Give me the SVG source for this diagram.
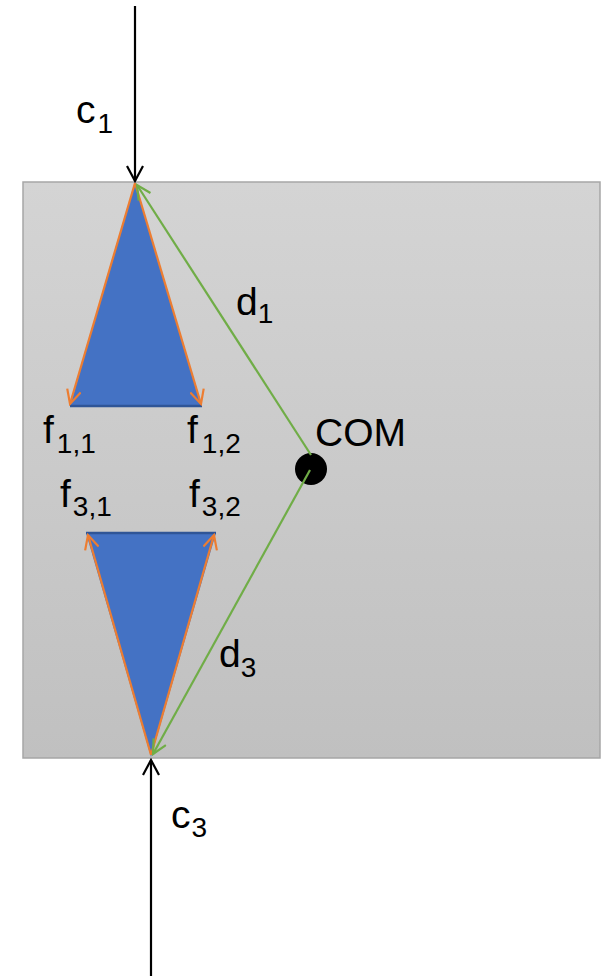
<svg xmlns="http://www.w3.org/2000/svg" width="613" height="976" viewBox="0 0 613 976">
<defs>
<linearGradient id="bg" x1="0" y1="0" x2="0" y2="1">
<stop offset="0" stop-color="#d4d4d4"/>
<stop offset="1" stop-color="#c0c0c0"/>
</linearGradient>
<marker id="ao" viewBox="-16 -8 18 16" markerWidth="18" markerHeight="16" refX="0" refY="0" orient="auto" markerUnits="userSpaceOnUse">
<path d="M-14,-7 L0,0 L-14,7" fill="none" stroke="#ed7d31" stroke-width="2.2"/>
</marker>
<marker id="ag" viewBox="-16 -8 18 16" markerWidth="18" markerHeight="16" refX="0" refY="0" orient="auto" markerUnits="userSpaceOnUse">
<path d="M-14,-7 L0,0 L-14,7" fill="none" stroke="#70ad47" stroke-width="2.2"/>
</marker>
<marker id="ak" viewBox="-16 -9 18 18" markerWidth="18" markerHeight="18" refX="0" refY="0" orient="auto" markerUnits="userSpaceOnUse">
<path d="M-15,-8 L0,0 L-15,8" fill="none" stroke="#000" stroke-width="2.2"/>
</marker>
</defs>
<style>
text{font-family:"Liberation Sans",Arial,sans-serif;fill:#000}
.lbl{font-size:39px}
.sub{font-size:28px}
.tri{fill:#4472c4}
.base{stroke:#2f5597;stroke-width:2.5}
.or{stroke:#ed7d31;stroke-width:2.2;fill:none;marker-end:url(#ao)}
.gr{stroke:#70ad47;stroke-width:2.2;fill:none;marker-end:url(#ag)}
.bk{stroke:#000;stroke-width:2.2;fill:none;marker-end:url(#ak)}
</style>
<g id="body">
<rect x="23" y="182" width="577" height="576" fill="url(#bg)" stroke="#a6a6a6" stroke-width="1.5"/>
</g>
<g id="triangle1">
<polygon class="tri" points="135,182 70,406 202,406"/>
<line class="base" x1="70" y1="406" x2="202" y2="406"/>
</g>
<g id="triangle3">
<polygon class="tri" points="86,533 216,533 151,757"/>
<line class="base" x1="86" y1="533" x2="216" y2="533"/>
</g>
<g id="com">
<circle cx="311" cy="469" r="16" fill="#000"/>
<text class="lbl" x="315" y="446">COM</text>
</g>
<g id="connectors">
<line class="bk" x1="135" y1="6" x2="135" y2="181"/>
<line class="bk" x1="151" y1="976" x2="151" y2="760"/>
<line class="or" x1="135" y1="183" x2="70" y2="404"/>
<line class="or" x1="135" y1="183" x2="201" y2="404"/>
<line class="or" x1="151" y1="755" x2="88" y2="535"/>
<line class="or" x1="151" y1="755" x2="214" y2="535"/>
<line class="gr" x1="311" y1="455" x2="137" y2="185"/>
<line class="gr" x1="310" y1="470" x2="153" y2="754"/>
</g>
<g id="labels">
<text class="lbl" x="76" y="123">c<tspan class="sub" dx="2" dy="10">1</tspan></text>
<text class="lbl" x="171" y="828">c<tspan class="sub" dx="1" dy="9">3</tspan></text>
<text class="lbl" x="236" y="315">d<tspan class="sub" dy="8">1</tspan></text>
<text class="lbl" x="219" y="667">d<tspan class="sub" dy="10">3</tspan></text>
<text class="lbl" x="43" y="443">f<tspan class="sub" dx="3" dy="10">1,1</tspan></text>
<text class="lbl" x="187" y="443">f<tspan class="sub" dx="4" dy="10">1,2</tspan></text>
<text class="lbl" x="60" y="507">f<tspan class="sub" dx="2" dy="9">3,1</tspan></text>
<text class="lbl" x="189" y="507">f<tspan class="sub" dx="2" dy="9">3,2</tspan></text>
</g>
</svg>
